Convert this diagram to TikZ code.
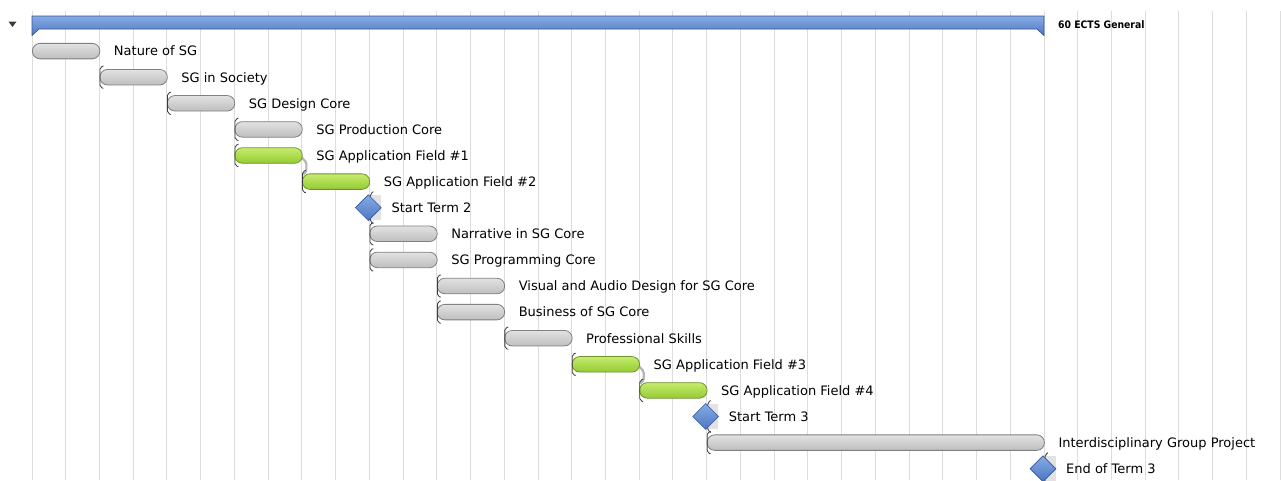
\documentclass[tikz,border=0pt]{standalone}
\usepackage{fontspec}
\usepackage{graphicx}
\setmainfont{DejaVu Sans}
\usetikzlibrary{shapes.geometric,calc}

\definecolor{gridcol}{HTML}{DDDDDD}
\definecolor{grayTop}{HTML}{E2E2E2}
\definecolor{grayBot}{HTML}{BEBEBE}
\definecolor{grayLine}{HTML}{808080}
\definecolor{greenTop}{HTML}{C4EC6E}
\definecolor{greenBot}{HTML}{96CA32}
\definecolor{greenLine}{HTML}{6E9430}
\definecolor{blueTop}{HTML}{86ABE4}
\definecolor{blueBot}{HTML}{4D77C2}
\definecolor{blueLine}{HTML}{34559A}
\definecolor{linkcol}{HTML}{B4B4B4}
\definecolor{markcol}{HTML}{3A3A3A}
\definecolor{shadowcol}{HTML}{E2E2E2}

\newcommand\colw{33.733}
\newcommand\rowh{26.1}

\tikzset{
  gridline/.style={draw=gridcol, line width=1pt},
  taskbar/.style={rectangle, rounded corners=7.6pt, minimum height=15.5pt,
    inner sep=0pt, line width=0.8pt, anchor=west},
  graytask/.style={taskbar, draw=grayLine, top color=grayTop, bottom color=grayBot},
  greentask/.style={taskbar, draw=greenLine, top color=greenTop, bottom color=greenBot},
  milestone/.style={diamond, minimum width=26pt, minimum height=26pt, inner sep=0pt,
    draw=blueLine, line width=0.6pt, top color=blueTop, bottom color=blueBot},
  lbl/.style={font=\fontsize{13}{15}\selectfont, text=black, inner sep=0pt, anchor=base west},
  link/.style={draw=linkcol, line width=2.2pt, rounded corners=1.5pt},
  depmark/.style={draw=markcol, line width=0.8pt, rounded corners=2pt},
}

% task bar: name, first column, columns spanned, row, style, label
\newcommand\ganttbar[6]{%
  \node[#5, minimum width={#3*\colw pt}] (#1) at ({32+#2*\colw}, {25+#4*\rowh}) {};
  \node[lbl] (#1-l) at ($(#1.east)+(13.5,4.8)$) {#6};
}
% dependency bracket at the start of a bar
\newcommand\depbracket[1]{%
  \draw[depmark] ($(#1.north west)+(4,-3)$) -- ($(#1.north west)+(0.6,-2)$)
     -- ($(#1.south west)+(0.6,2)$) -- ($(#1.south west)+(4,3)$);
}
% milestone: name, column, row, label
\newcommand\ganttmile[4]{%
  \coordinate (#1-c) at ({32+#2*\colw}, {25+#3*\rowh});
  \fill[shadowcol] ($(#1-c)+(0,-12.5)$) rectangle ($(#1-c)+(11.5,12.5)$);
  \draw[depmark] ($(#1-c)+(4,-16)$) -- ($(#1-c)+(1,-14)$) -- ($(#1-c)+(1,14)$) -- ($(#1-c)+(4,16)$);
  \node[milestone] (#1) at ($(#1-c)+(-1,0)$) {};
  \node[lbl] (#1-l) at ($(#1-c)+(22,4.8)$) {#4};
}

\begin{document}
\begin{tikzpicture}[x=1pt,y=-1pt]
\useasboundingbox (0,0) rectangle (1281,480);
\fill[white] (0,0) rectangle (1281,480);

% time grid
\foreach \k in {0,...,37}{
  \draw[gridline] ({32+\k*\colw},11) -- ({32+\k*\colw},480);
}

% collapse arrow and summary bar
\fill[markcol] (8.5,21.5) -- (16.5,21.5) -- (12.5,27) -- cycle;
\coordinate (sumL) at (32,16);
\coordinate (sumR) at (1044,16);
\draw[draw=blueLine, line width=0.7pt, top color=blueTop, bottom color=blueBot]
  (sumL) -- (sumR) -- (1044,35.5) -- (1037,29) -- (39,29) -- (32,35.5) -- cycle;
\node[font=\bfseries\fontsize{10.3}{12}\selectfont, inner sep=0pt, anchor=base west]
  (sumlbl) at (1058,28) {\scalebox{0.9}[1]{60 ECTS General}};

% links between consecutive application fields (drawn below the bars)
\coordinate (f1end) at ({32+8*\colw},{25+5*\rowh});
\coordinate (f2start) at ({32+8*\colw},{25+6*\rowh});
\coordinate (f3end) at ({32+18*\colw},{25+13*\rowh});
\coordinate (f4start) at ({32+18*\colw},{25+14*\rowh});
\draw[link] ($(f1end)+(-1,1)$) -- ($(f1end)+(4.5,7)$) -- ($(f2start)+(4.5,-10)$) -- ($(f2start)+(1,-7)$);
\draw[link] ($(f3end)+(-1,1)$) -- ($(f3end)+(4.5,7)$) -- ($(f4start)+(4.5,-10)$) -- ($(f4start)+(1,-7)$);

% tasks
\ganttbar{nat}{0}{2}{1}{graytask}{Nature of SG}
\ganttbar{soc}{2}{2}{2}{graytask}{SG in Society}
\ganttbar{des}{4}{2}{3}{graytask}{SG Design Core}
\ganttbar{pro}{6}{2}{4}{graytask}{SG Production Core}
\ganttbar{fa}{6}{2}{5}{greentask}{SG Application Field \#1}
\ganttbar{fb}{8}{2}{6}{greentask}{SG Application Field \#2}
\ganttmile{stb}{10}{7}{Start Term 2}
\ganttbar{nar}{10}{2}{8}{graytask}{Narrative in SG Core}
\ganttbar{prg}{10}{2}{9}{graytask}{SG Programming Core}
\ganttbar{vis}{12}{2}{10}{graytask}{Visual and Audio Design for SG Core}
\ganttbar{bus}{12}{2}{11}{graytask}{Business of SG Core}
\ganttbar{psk}{14}{2}{12}{graytask}{Professional Skills}
\ganttbar{fc}{16}{2}{13}{greentask}{SG Application Field \#3}
\ganttbar{fd}{18}{2}{14}{greentask}{SG Application Field \#4}
\ganttmile{stc}{20}{15}{Start Term 3}
\ganttbar{igp}{20}{10}{16}{graytask}{Interdisciplinary Group Project}
\ganttmile{eot}{30}{17}{End of Term 3}

% dependency brackets
\foreach \n in {soc,des,pro,fa,fb,nar,prg,vis,bus,psk,fc,fd,igp}{
  \depbracket{\n}
}
\end{tikzpicture}
\end{document}
